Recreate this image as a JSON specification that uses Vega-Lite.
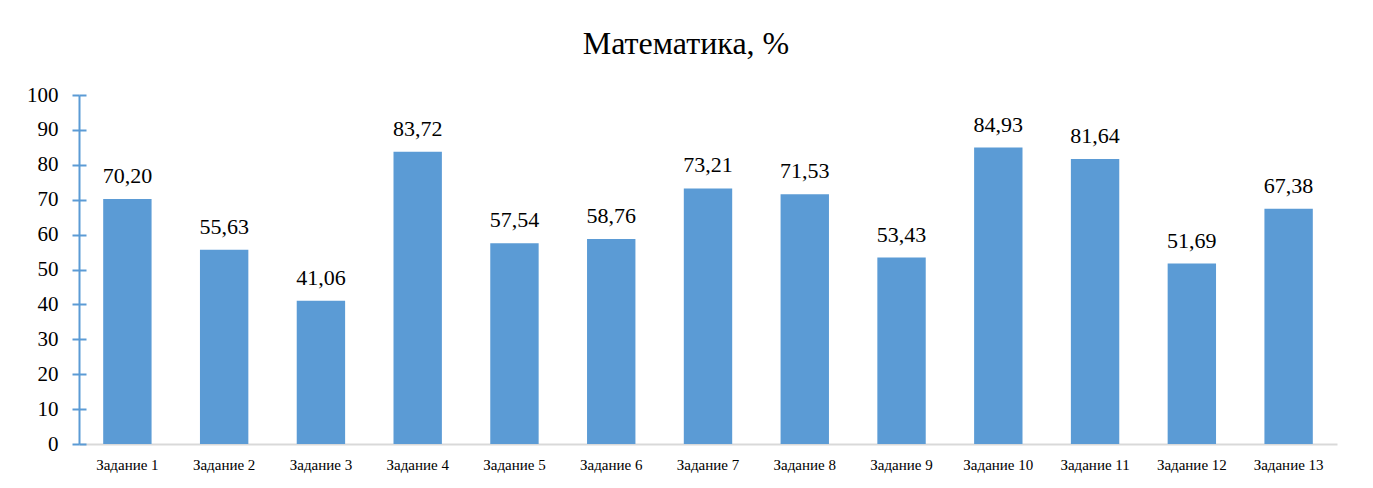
{
  "$schema": "https://vega.github.io/schema/vega-lite/v6.json",
  "autosize": "none",
  "width": 1258,
  "height": 349,
  "padding": {"left": 79, "top": 95, "right": 36, "bottom": 44},
  "background": "white",
  "config": {"view": {"stroke": null}, "font": "Liberation Serif"},
  "title": {
    "text": "Математика, %",
    "font": "Liberation Serif",
    "fontSize": 32,
    "fontWeight": "normal",
    "color": "#000000",
    "offset": 23,
    "dx": -22
  },
  "data": {
    "values": [
      {"task": "Задание 1", "value": 70.20, "label": "70,20"},
      {"task": "Задание 2", "value": 55.63, "label": "55,63"},
      {"task": "Задание 3", "value": 41.06, "label": "41,06"},
      {"task": "Задание 4", "value": 83.72, "label": "83,72"},
      {"task": "Задание 5", "value": 57.54, "label": "57,54"},
      {"task": "Задание 6", "value": 58.76, "label": "58,76"},
      {"task": "Задание 7", "value": 73.21, "label": "73,21"},
      {"task": "Задание 8", "value": 71.53, "label": "71,53"},
      {"task": "Задание 9", "value": 53.43, "label": "53,43"},
      {"task": "Задание 10", "value": 84.93, "label": "84,93"},
      {"task": "Задание 11", "value": 81.64, "label": "81,64"},
      {"task": "Задание 12", "value": 51.69, "label": "51,69"},
      {"task": "Задание 13", "value": 67.38, "label": "67,38"}
    ]
  },
  "encoding": {
    "x": {
      "field": "task",
      "type": "nominal",
      "sort": null,
      "scale": {"paddingInner": 0.5, "paddingOuter": 0.25},
      "axis": {
        "title": null,
        "labelAngle": 0,
        "labelFont": "Liberation Serif",
        "labelFontSize": 15,
        "labelColor": "#000000",
        "labelPadding": 13,
        "ticks": false,
        "domainColor": "#D9D9D9",
        "domainWidth": 2
      }
    }
  },
  "layer": [
    {
      "mark": {"type": "bar", "color": "#5B9BD5"},
      "encoding": {
        "y": {
          "field": "value",
          "type": "quantitative",
          "scale": {"domain": [0, 100]},
          "axis": {
            "title": null,
            "orient": "left",
            "values": [0, 10, 20, 30, 40, 50, 60, 70, 80, 90, 100],
            "labelOverlap": false,
            "grid": false,
            "labelFont": "Liberation Serif",
            "labelFontSize": 21,
            "labelColor": "#000000",
            "labelPadding": 14,
            "tickSize": 7,
            "tickWidth": 2,
            "tickColor": "#5B9BD5",
            "domainColor": "#5B9BD5",
            "domainWidth": 2
          }
        }
      }
    },
    {
      "mark": {"type": "text", "baseline": "alphabetic", "dy": -16, "font": "Liberation Serif", "fontSize": 22, "color": "#000000"},
      "encoding": {
        "y": {
          "field": "value",
          "type": "quantitative",
          "scale": {"domain": [0, 100]},
          "axis": {
            "title": null,
            "orient": "left",
            "values": [0, 10, 20, 30, 40, 50, 60, 70, 80, 90, 100],
            "labels": false,
            "domain": false,
            "grid": false,
            "tickSize": -7,
            "tickWidth": 2,
            "tickColor": "#5B9BD5"
          }
        },
        "text": {"field": "label"}
      }
    }
  ],
  "resolve": {"axis": {"y": "independent"}}
}
